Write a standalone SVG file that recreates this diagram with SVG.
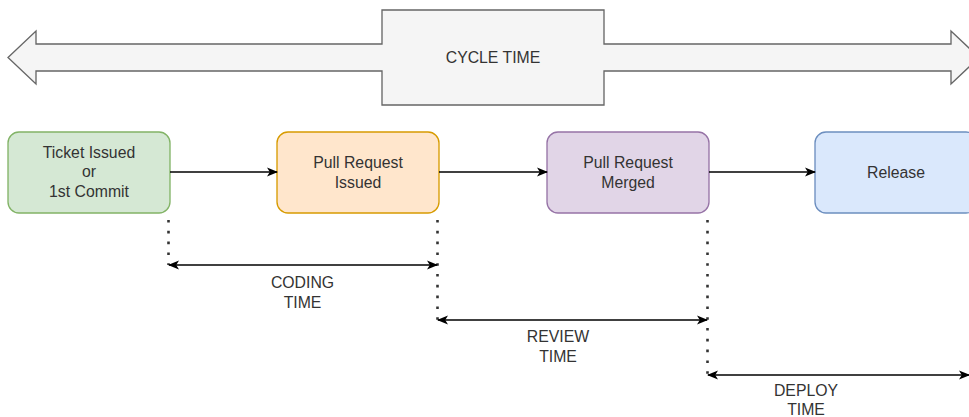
<svg xmlns="http://www.w3.org/2000/svg" width="969" height="417" viewBox="0 0 969 417">
<defs>
<marker id="arr" viewBox="0 0 11 10" refX="10" refY="5" markerWidth="11" markerHeight="10" markerUnits="userSpaceOnUse" orient="auto-start-reverse">
<path d="M0,0.5 L11,5 L0,9.5 L2.8,5 Z" fill="#000"/>
</marker>
<style>
text{font-family:"Liberation Sans",Arial,sans-serif;font-size:15.8px;fill:#333333;text-anchor:middle}
.node rect{stroke-width:1.33}
.conn line{stroke:#000;stroke-width:1.33;fill:none}
.dot{stroke:#333;stroke-width:2.6;stroke-dasharray:2.6 8.2;fill:none}
</style>
</defs>
<g id="cycle">
<polygon points="8,57.5 36,31 36,44 382,44 382,10 604,10 604,44 951,44 951,31 979,57.5 951,84 951,71 604,71 604,105 382,105 382,71 36,71 36,84" fill="#f5f5f5" stroke="#666666" stroke-width="1.33"/>
<text x="493" y="63">CYCLE TIME</text>
</g>
<g id="ticket" class="node">
<rect x="8" y="132" width="162" height="81" rx="11" fill="#d5e8d4" stroke="#82b366"/>
<text x="89" y="157.5">Ticket Issued</text>
<text x="89" y="177">or</text>
<text x="89" y="196.5">1st Commit</text>
</g>
<g id="pr-issued" class="node">
<rect x="277" y="132" width="162" height="81" rx="11" fill="#ffe6cc" stroke="#d79b00"/>
<text x="358" y="167.5">Pull Request</text>
<text x="358" y="187.5">Issued</text>
</g>
<g id="pr-merged" class="node">
<rect x="547" y="132" width="162" height="81" rx="11" fill="#e1d5e7" stroke="#9673a6"/>
<text x="628" y="167.5">Pull Request</text>
<text x="628" y="187.5">Merged</text>
</g>
<g id="release" class="node">
<rect x="815" y="132" width="162" height="81" rx="11" fill="#dae8fc" stroke="#6c8ebf"/>
<text x="896" y="177.5">Release</text>
</g>
<g id="connectors" class="conn">
<line x1="170" y1="172" x2="277" y2="172" marker-end="url(#arr)"/>
<line x1="439" y1="172" x2="547" y2="172" marker-end="url(#arr)"/>
<line x1="709" y1="172" x2="815" y2="172" marker-end="url(#arr)"/>
<path class="dot" d="M168.5,220 V265"/>
<path class="dot" d="M437.5,220 V320"/>
<path class="dot" d="M707.5,220 V375"/>
<line x1="169" y1="265" x2="437" y2="265" marker-start="url(#arr)" marker-end="url(#arr)"/>
<line x1="438" y1="320" x2="707" y2="320" marker-start="url(#arr)" marker-end="url(#arr)"/>
<line x1="708" y1="375" x2="969" y2="375" marker-start="url(#arr)" marker-end="url(#arr)"/>
</g>
<g id="labels">
<text x="302.5" y="288">CODING</text>
<text x="302.5" y="308">TIME</text>
<text x="558" y="341.5">REVIEW</text>
<text x="558" y="362">TIME</text>
<text x="806" y="395.5">DEPLOY</text>
<text x="806" y="415">TIME</text>
</g>
</svg>
